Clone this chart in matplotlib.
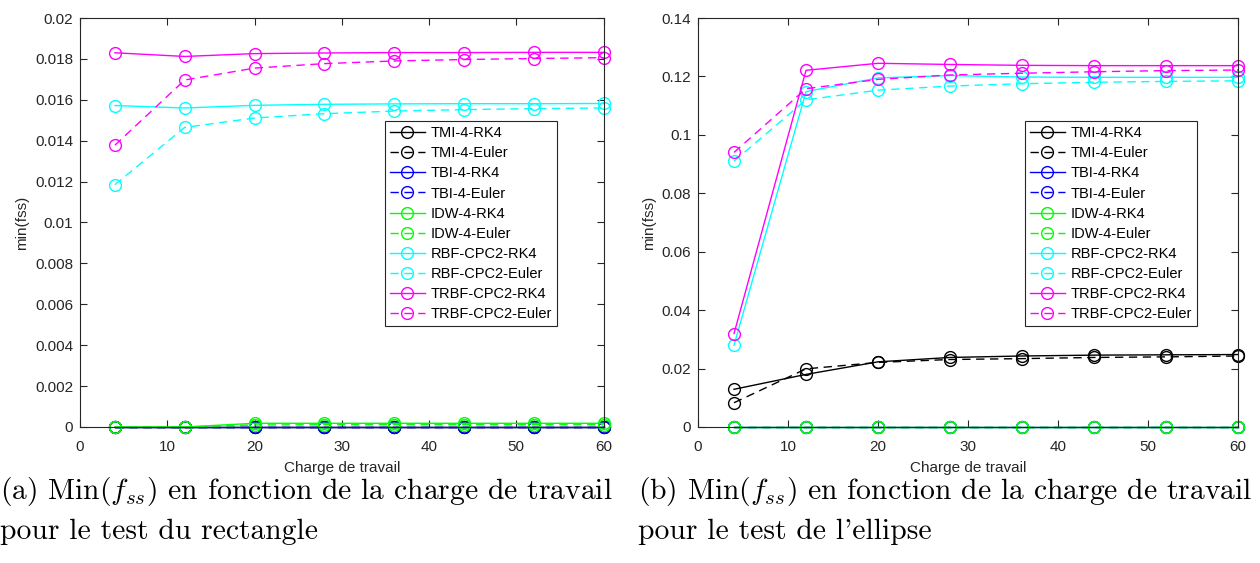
import matplotlib
matplotlib.use("Agg")
import matplotlib.pyplot as plt
import numpy as np

plt.rcParams['font.family'] = ['Liberation Sans', 'DejaVu Sans']
plt.rcParams['mathtext.fontset'] = 'cm'

charge = [4, 12, 20, 28, 36, 44, 52, 60]
labels = ["TMI-4-RK4", "TMI-4-Euler", "TBI-4-RK4", "TBI-4-Euler", "IDW-4-RK4",
          "IDW-4-Euler", "RBF-CPC2-RK4", "RBF-CPC2-Euler", "TRBF-CPC2-RK4", "TRBF-CPC2-Euler"]
colors = ["k", "k", "b", "b", (0, 1, 0), (0, 1, 0), (0, 1, 1), (0, 1, 1), (1, 0, 1), (1, 0, 1)]

# rectangle test
rect_tmi_rk4 = [0, 0, 0, 0, 0, 0, 0, 0]
rect_tmi_euler = [0, 0, 0, 0, 0, 0, 0, 0]
rect_tbi_rk4 = [0, 0, 0, 0, 0, 0, 0, 0]
rect_tbi_euler = [0, 0, 0, 0, 0, 0, 0, 0]
rect_idw_rk4 = [0, 0, 0.00018, 0.00018, 0.00018, 0.00018, 0.00018, 0.00018]
rect_idw_euler = [0, 0, 0.0001, 0.00011, 0.00011, 0.00011, 0.00011, 0.00011]
rect_rbf_rk4 = [0.01572, 0.01560, 0.01573, 0.01578, 0.01580, 0.01581, 0.01581, 0.01582]
rect_rbf_euler = [0.01185, 0.01465, 0.01511, 0.01532, 0.01545, 0.01552, 0.01557, 0.01560]
rect_trbf_rk4 = [0.01830, 0.01812, 0.01826, 0.01829, 0.01831, 0.01831, 0.01832, 0.01832]
rect_trbf_euler = [0.01378, 0.01697, 0.01755, 0.01777, 0.01790, 0.01797, 0.01802, 0.01806]

# ellipse test
ell_tmi_rk4 = [0.0129, 0.0180, 0.0223, 0.0238, 0.0243, 0.0246, 0.0247, 0.0248]
ell_tmi_euler = [0.0083, 0.0199, 0.0221, 0.0231, 0.0234, 0.0238, 0.0240, 0.0243]
ell_tbi_rk4 = [0, 0, 0, 0, 0, 0, 0, 0]
ell_tbi_euler = [0, 0, 0, 0, 0, 0, 0, 0]
ell_idw_rk4 = [0, 0, 0, 0, 0, 0, 0, 0]
ell_idw_euler = [0, 0, 0, 0, 0, 0, 0, 0]
ell_rbf_rk4 = [0.028, 0.1148, 0.1195, 0.1203, 0.1198, 0.1197, 0.1197, 0.1197]
ell_rbf_euler = [0.0910, 0.1120, 0.1153, 0.1167, 0.1175, 0.1180, 0.1183, 0.1185]
ell_trbf_rk4 = [0.0320, 0.1221, 0.1245, 0.1241, 0.1238, 0.1237, 0.1237, 0.1237]
ell_trbf_euler = [0.0940, 0.1158, 0.1190, 0.1205, 0.1211, 0.1216, 0.1220, 0.1222]

rect = [rect_tmi_rk4, rect_tmi_euler, rect_tbi_rk4, rect_tbi_euler, rect_idw_rk4,
        rect_idw_euler, rect_rbf_rk4, rect_rbf_euler, rect_trbf_rk4, rect_trbf_euler]
ell = [ell_tmi_rk4, ell_tmi_euler, ell_tbi_rk4, ell_tbi_euler, ell_idw_rk4,
       ell_idw_euler, ell_rbf_rk4, ell_rbf_euler, ell_trbf_rk4, ell_trbf_euler]

axcol = "#262626"


def draw(ax, series, ymax, ystep, leg_anchor):
    for i, (s, lab, c) in enumerate(zip(series, labels, colors)):
        ls = "-" if i % 2 == 0 else (0, (6, 4))
        ax.plot(charge, s, linestyle=ls, color=c, marker="o", markersize=8.5,
                markerfacecolor="none", linewidth=1.0, label=lab, clip_on=False)
    ax.set_xlim(0, 60)
    ax.set_ylim(0, ymax)
    ax.set_xticks(np.arange(0, 61, 10))
    yt = np.arange(0, ymax + ystep / 2, ystep)
    ax.set_yticks(yt)
    ax.set_yticklabels(["0"] + ["%g" % round(v, 4) for v in yt[1:]])
    ax.tick_params(direction="in", top=True, right=True, labelsize=11, colors=axcol,
                   length=5, labelcolor=axcol)
    ax.tick_params(axis="x", pad=9.5)
    ax.tick_params(axis="y", pad=5)
    for sp in ax.spines.values():
        sp.set_color(axcol)
        sp.set_linewidth(0.8)
    ax.set_xlabel("Charge de travail", fontsize=11, color=axcol, labelpad=5)
    ax.set_ylabel("min(fss)", fontsize=11, color=axcol)
    leg = ax.legend(loc="upper left", bbox_to_anchor=leg_anchor, fontsize=10.5,
                    fancybox=False, edgecolor=axcol, framealpha=1, handlelength=2.4,
                    labelspacing=0.42, borderpad=0.35, handletextpad=0.4,
                    borderaxespad=0)
    leg.get_frame().set_linewidth(0.8)


fig = plt.figure(figsize=(12.6, 5.63), dpi=100)
ax1 = fig.add_axes([0.0635, 0.2416, 0.4155, 0.7264])
ax2 = fig.add_axes([0.554, 0.2416, 0.4285, 0.7264])

draw(ax1, rect, 0.02, 0.002, (0.582, 0.748))
draw(ax2, ell, 0.14, 0.02, (0.605, 0.748))

cap = dict(fontsize=21.3, family="cmr10", va="center", ha="left")
fig.text(0.0, 1 - 492 / 563, r"(a) Min($f_{ss}$) en fonction de la charge de travail", **cap)
fig.text(0.0, 1 - 532 / 563, "pour le test du rectangle", **cap)
fig.text(638 / 1260, 1 - 492 / 563, r"(b) Min($f_{ss}$) en fonction de la charge de travail", **cap)
fig.text(638 / 1260, 1 - 532 / 563, "pour le test de l'ellipse", **cap)

fig.savefig("out.png", dpi=100)
